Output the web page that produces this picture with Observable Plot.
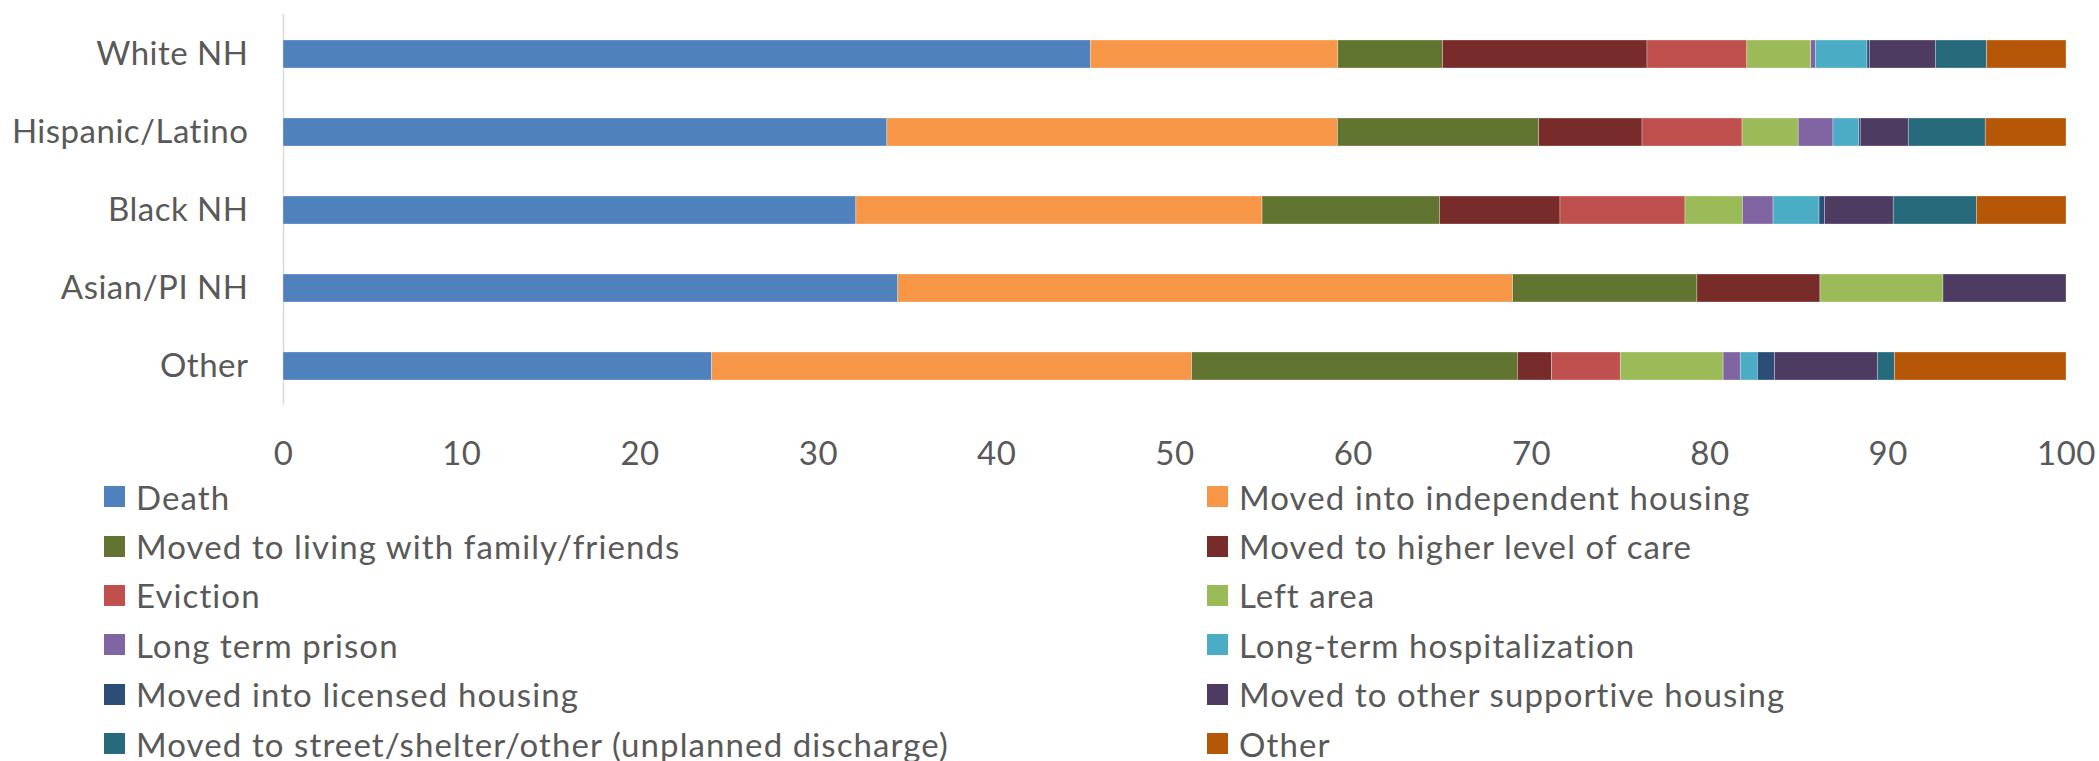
<!DOCTYPE html>
<html>
<head>
<meta charset="utf-8">
<script src="https://cdn.jsdelivr.net/npm/d3@7"></script>
<script src="https://cdn.jsdelivr.net/npm/@observablehq/plot@0.6"></script>
<style>
  html, body { margin: 0; padding: 0; background: #ffffff; }
  body { width: 2099px; height: 761px; overflow: hidden; font-family: Lato, "Open Sans", sans-serif; color: #595959; }
  #chart svg { display: block; }
  #chart svg text { letter-spacing: 0.5px; }
  #legend {
    display: grid;
    grid-template-columns: 1103px auto;
    grid-auto-rows: 49.4px;
    padding-left: 104px;
    font-size: 33px;
    letter-spacing: 1.1px;
    color: #595959;
  }
  .item { display: flex; align-items: center; white-space: nowrap; }
  .sw { width: 21px; height: 21px; margin-right: 11px; flex: none; }
</style>
</head>
<body>
<div id="chart"></div>
<div id="legend"></div>
<script>
// ---- data (percent of exits) ----
const groups = ["White NH", "Hispanic/Latino", "Black NH", "Asian/PI NH", "Other"];

const categories = [
  "Death",
  "Moved into independent housing",
  "Moved to living with family/friends",
  "Moved to higher level of care",
  "Eviction",
  "Left area",
  "Long term prison",
  "Long-term hospitalization",
  "Moved into licensed housing",
  "Moved to other supportive housing",
  "Moved to street/shelter/other (unplanned discharge)",
  "Other"
];

const colors = [
  "#4F81BD", "#F79646", "#617530", "#772C2A", "#C0504D", "#9BBB59",
  "#8064A2", "#4BACC6", "#2C4D75", "#4D3B62", "#276A7C", "#B65708"
];

const whiteNH    = [45.28, 13.88, 5.87, 11.47, 5.60, 3.58, 0.26, 2.90, 0.13, 3.70, 2.88, 4.45];
const hispanic   = [33.87, 25.27, 11.28, 5.80, 5.61, 3.15, 1.95, 1.44, 0.09, 2.69, 4.32, 4.53];
const blackNH    = [32.13, 22.78, 9.95, 6.76, 7.01, 3.22, 1.72, 2.58, 0.30, 3.86, 4.66, 5.03];
const asianPINH  = [34.48, 34.48, 10.34, 6.90, 0, 6.90, 0, 0, 0, 6.90, 0, 0];
const otherGroup = [24.04, 26.92, 18.27, 1.92, 3.85, 5.77, 0.96, 0.96, 0.96, 5.77, 0.96, 9.62];

const xTicks = [0, 10, 20, 30, 40, 50, 60, 70, 80, 90, 100];

// ---- build table ----
const seriesByGroup = [whiteNH, hispanic, blackNH, asianPINH, otherGroup];
const rows = [];
groups.forEach((g, gi) => {
  categories.forEach((c, ci) => {
    const v = seriesByGroup[gi][ci];
    if (v > 0) rows.push({group: g, category: c, value: v});
  });
});

const chart = Plot.plot({
  width: 2099,
  height: 472,
  marginLeft: 283,
  marginRight: 33,
  marginTop: 14,
  marginBottom: 67,
  style: {fontFamily: "Lato, 'Open Sans', sans-serif", fontSize: "33px", color: "#595959", background: "#ffffff"},
  x: {domain: [0, 100], ticks: xTicks, tickSize: 0, tickPadding: 36, label: null},
  y: {domain: groups, paddingInner: 0.642, paddingOuter: 0.321, tickSize: 0, tickPadding: 35, label: null},
  color: {domain: categories, range: colors},
  marks: [
    Plot.ruleX([0], {stroke: "#d9d9d9", strokeWidth: 1.5}),
    Plot.barX(rows, {
      x: "value", y: "group", fill: "category", order: categories,
      stroke: "#ffffff", strokeWidth: 0.6, strokeOpacity: 0.5
    })
  ]
});
document.getElementById("chart").appendChild(chart);

// ---- legend (HTML, below the SVG) ----
const legend = document.getElementById("legend");
categories.forEach((c, i) => {
  const item = document.createElement("div");
  item.className = "item";
  const sw = document.createElement("span");
  sw.className = "sw";
  sw.style.background = colors[i];
  const label = document.createElement("span");
  label.textContent = c;
  item.appendChild(sw);
  item.appendChild(label);
  legend.appendChild(item);
});
</script>
</body>
</html>
